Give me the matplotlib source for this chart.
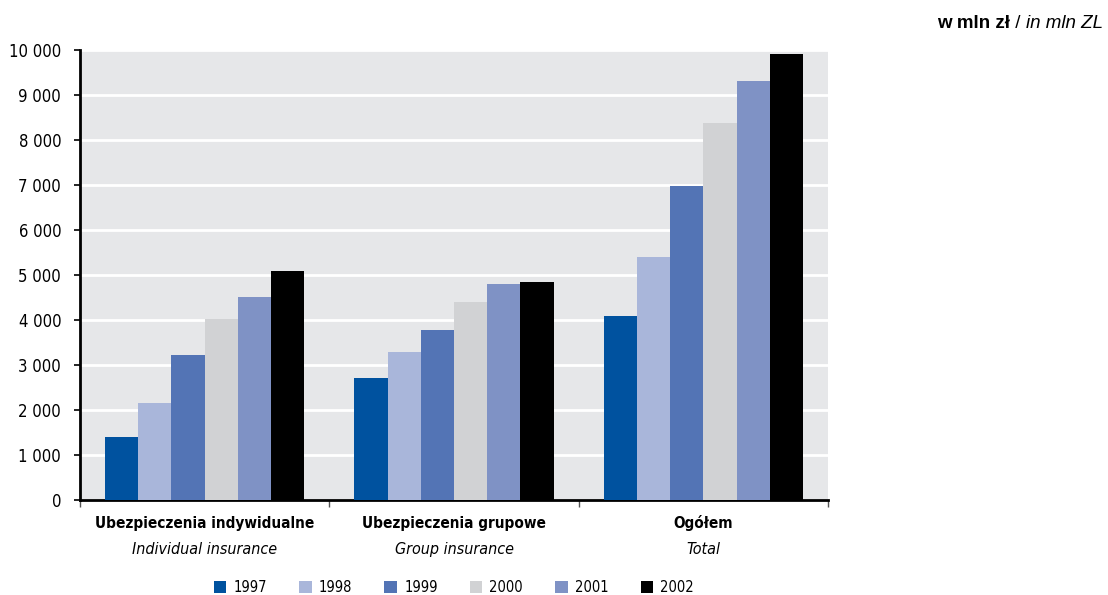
import numpy as np
import matplotlib
matplotlib.use("Agg")
import matplotlib.pyplot as plt
from matplotlib.patches import Patch

# dane
categories_pl = ['Ubezpieczenia indywidualne', 'Ubezpieczenia grupowe', 'Ogółem']
categories_en = ['Individual insurance', 'Group insurance', 'Total']
years = ['1997', '1998', '1999', '2000', '2001', '2002']
v1997 = [1400, 2715, 4100]
v1998 = [2160, 3295, 5410]
v1999 = [3230, 3785, 6970]
v2000 = [4030, 4390, 8375]
v2001 = [4520, 4810, 9310]
v2002 = [5100, 4855, 9910]
series = [v1997, v1998, v1999, v2000, v2001, v2002]
colors = ['#00529F', '#A9B6DA', '#5374B5', '#D1D2D4', '#7F92C5', '#000000']

plt.rcParams['font.family'] = ['DejaVu Sans']
plt.rcParams['font.stretch'] = 'condensed'

fig = plt.figure(figsize=(11.08, 5.95), dpi=100)
ax = fig.add_axes([80/1108, 1 - 500/595, 748/1108, 450/595])
ax.set_facecolor('#E6E7E9')

x = np.arange(len(categories_pl))
w = 0.8 / len(years)
for i, (vals, c) in enumerate(zip(series, colors)):
    ax.bar(x - 0.4 + w * (i + 0.5), vals, width=w, color=c, zorder=3, linewidth=0)

ax.set_xlim(-0.5, 2.5)
ax.set_ylim(0, 10000)
ax.set_yticks(np.arange(0, 10001, 1000))
ax.set_yticklabels(['0'] + [f'{v // 1000} 000' for v in range(1000, 10001, 1000)], fontsize=12)
ax.yaxis.grid(True, color='white', linewidth=2, zorder=1)
ax.set_axisbelow(True)

ax.set_xticks([-0.5, 0.5, 1.5, 2.5])
ax.set_xticklabels([])
ax.tick_params(axis='x', length=5, width=1, color='#555555', direction='out')
ax.tick_params(axis='y', length=4.5, width=1.2, direction='out', pad=9)

for s in ['top', 'right']:
    ax.spines[s].set_visible(False)
ax.spines['left'].set_linewidth(2)
ax.spines['bottom'].set_linewidth(2)

trans = ax.get_xaxis_transform()
for xi, pl, en in zip(x, categories_pl, categories_en):
    ax.text(xi, -0.052, pl, transform=trans, ha='center', va='center',
            fontsize=11, fontweight='bold')
    ax.text(xi, -0.11, en, transform=trans, ha='center', va='center',
            fontsize=11.5, fontstyle='italic')

handles = [Patch(facecolor=c, edgecolor='none') for c in colors]
ax.legend(handles, years, loc='center', bbox_to_anchor=(0.5, -0.195), ncol=6,
          frameon=False, fontsize=10.5, handlelength=0.85, handleheight=0.85,
          columnspacing=2.2, handletextpad=0.5)

# jednostka: pogrubiona + kursywa
ufam = ['Liberation Sans', 'DejaVu Sans']
t1 = fig.text(0, 0, 'w mln zł', fontsize=13.5, fontweight='bold', family=ufam, stretch='normal')
t2 = fig.text(0, 0, ' / ', fontsize=13.5, family=ufam, stretch='normal')
t3 = fig.text(0, 0, 'in mln ZL', fontsize=13.5, fontstyle='italic', family=ufam, stretch='normal')
fig.canvas.draw()
r = fig.canvas.get_renderer()
xr = 1103
for t in (t3, t2, t1):
    xr -= t.get_window_extent(r).width
    t.set_position((xr / 1108, 1 - 28/595))

fig.savefig('out.png', dpi=100)
